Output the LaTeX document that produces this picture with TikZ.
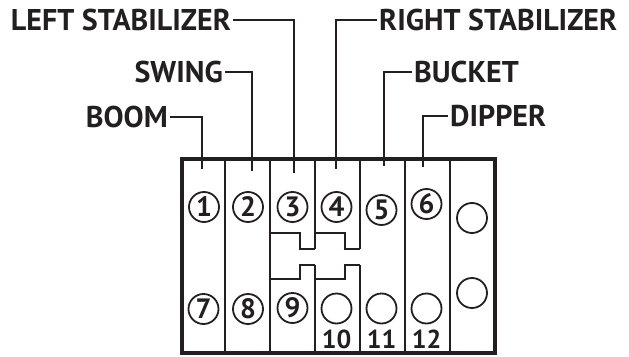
\documentclass[tikz,border=0pt]{standalone}
\usepackage{fontspec}
\setmainfont{PT Sans}
\usepackage{xcolor}
\usepackage{tikz}
\usetikzlibrary{positioning,calc}
\definecolor{inkblack}{RGB}{35,31,32}
\tikzset{
  framebox/.style={draw=inkblack, line width=3.2pt},
  divline/.style ={draw=inkblack, line width=2.6pt},
  leadline/.style={draw=inkblack, line width=2pt},
  lbl/.style     ={font=\bfseries\fontsize{30}{30}\selectfont,
                   text=inkblack, inner ysep=0pt, inner xsep=2pt},
  knob/.style    ={draw=inkblack, circle, line width=1.8pt,
                   minimum size=30pt, inner sep=0pt, text=inkblack,
                   font=\bfseries\fontsize{28}{28}\selectfont},
  numlbl/.style  ={font=\bfseries\fontsize{26}{26}\selectfont,
                   text=inkblack, inner sep=0pt, anchor=base},
}

\begin{document}
\begin{tikzpicture}[x=1pt,y=-1pt]
  \useasboundingbox (0,0) rectangle (629,356);
  % valve bank
  \draw[framebox] (182,159) rectangle (495,353);
  \foreach \x in {225,270,405,450}
    \draw[divline] (\x,159) -- (\x,353);
  \foreach \x in {315,360} {
    \draw[divline] (\x,159) -- (\x,249);
    \draw[divline] (\x,265) -- (\x,353);
  }
  \foreach \x in {270,315} {
    \draw[divline] (\x,233) -- ++(30,0) -- ++(0,16) -- ++(15,0);
    \draw[divline] (\x,279) -- ++(30,0) -- ++(0,-14) -- ++(15,0);
  }
  % knobs
  \foreach \i/\x/\y in {1/204/207,2/248/207,3/292.5/207,4/336.5/207,
                        5/381.5/210,6/426.5/204,7/203.5/309,8/248/309,
                        9/292.5/308}
    \node[knob] (k\i) at (\x,\y) {\i};
  \foreach \i/\x in {10/336.5,11/381.5,12/426.5} {
    \node[knob] (k\i) at (\x,308.5) {};
    \node[numlbl] (n\i) at (\x,348.5) {\i};
  }
  \node[knob] (k13) at (472,218) {};
  \node[knob] (k14) at (472,293) {};
  % leader ends
  \coordinate (p1) at (202,169);
  \coordinate (p2) at (252,171);
  \coordinate (p3) at (294,173);
  \coordinate (p4) at (336,169);
  \coordinate (p5) at (384,166);
  \coordinate (p6) at (423,167);
  % labels
  \node[lbl, anchor=east] (boom)  at (170,117) {BOOM};
  \node[lbl, anchor=east] (swing) at (225,72)  {SWING};
  \node[lbl, anchor=east] (lstab) at (233,20)  {LEFT STABILIZER};
  \node[lbl, anchor=west] (rstab) at (377,20)  {RIGHT STABILIZER};
  \node[lbl, anchor=west] (bucket) at (412,72) {BUCKET};
  \node[lbl, anchor=west] (dipper) at (448,116) {DIPPER};
  \draw[leadline] (boom.east) -| (p1);
  \draw[leadline] (swing.east) -| (p2);
  \draw[leadline] (lstab.east) -| (p3);
  \draw[leadline] (rstab.west) -| (p4);
  \draw[leadline] (bucket.west) -| (p5);
  \draw[leadline] (dipper.west) -| (p6);
\end{tikzpicture}
\end{document}
